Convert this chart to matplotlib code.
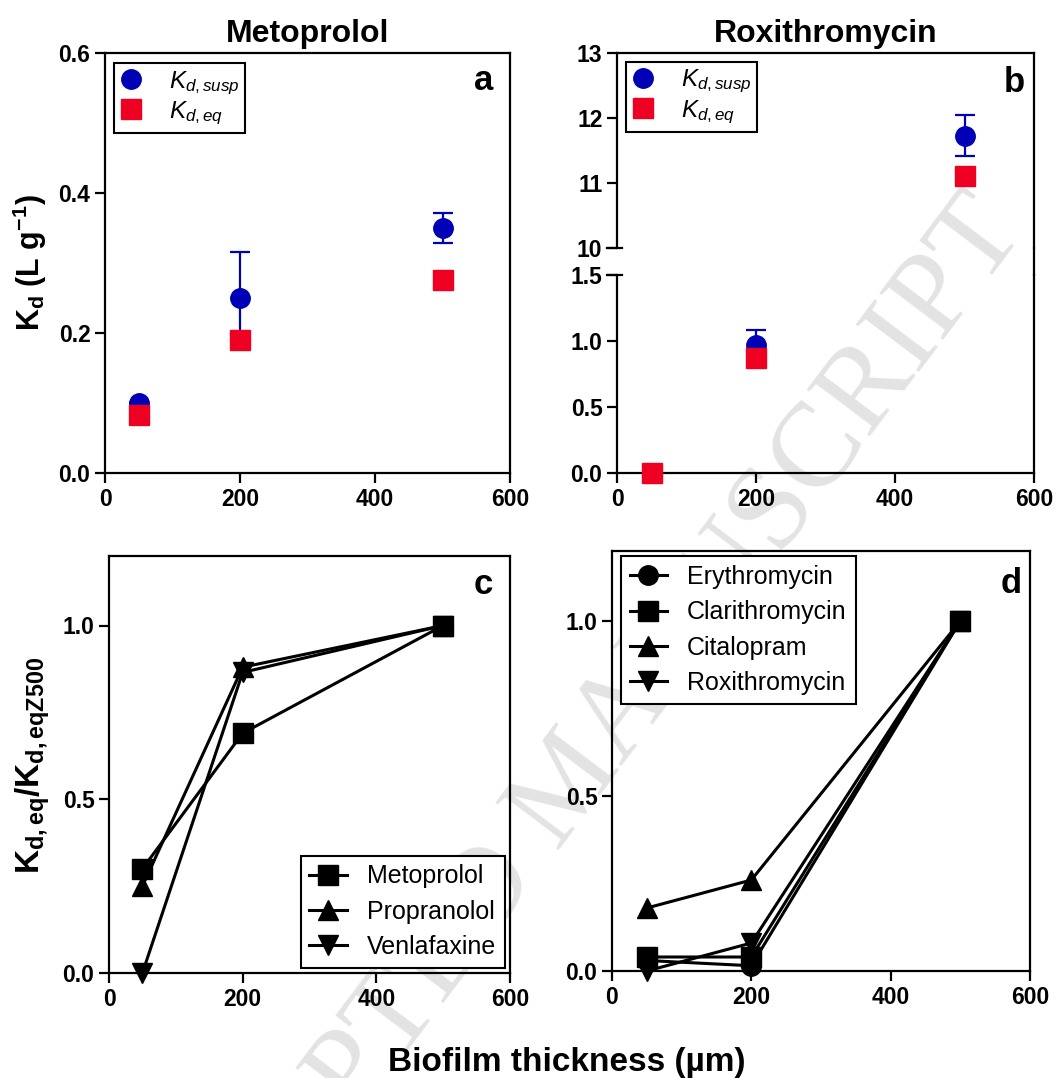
import numpy as np
import matplotlib
matplotlib.use("Agg")
import matplotlib.pyplot as plt
from matplotlib.lines import Line2D

plt.rcParams['font.family'] = ['Liberation Sans', 'DejaVu Sans']
plt.rcParams['mathtext.fontset'] = 'custom'
plt.rcParams['mathtext.rm'] = 'Liberation Sans'
plt.rcParams['mathtext.it'] = 'Liberation Sans:italic'
plt.rcParams['mathtext.bf'] = 'Liberation Sans:bold'

# biofilm thickness (um)
thickness = [50, 200, 500]

# a: metoprolol Kd (L/g)
meto_susp = [0.10, 0.25, 0.35]
meto_susp_err = [0.0, 0.065, 0.022]
meto_eq = [0.083, 0.19, 0.276]

# b: roxithromycin Kd (L/g)
roxi_susp = [0.0, 0.97, 11.73]
roxi_susp_err = [0.0, 0.11, 0.32]
roxi_eq = [0.0, 0.87, 11.10]

# c: Kd,eq normalised to 500 um
c_names = ['Metoprolol', 'Propranolol', 'Venlafaxine']
c_markers = ['s', '^', 'v']
c_values = [[0.30, 0.69, 1.0],
            [0.25, 0.88, 1.0],
            [0.0, 0.865, 1.0]]

# d: Kd,eq normalised to 500 um
d_names = ['Erythromycin', 'Clarithromycin', 'Citalopram', 'Roxithromycin']
d_markers = ['o', 's', '^', 'v']
d_values = [[0.03, 0.015, 1.0],
            [0.04, 0.04, 1.0],
            [0.18, 0.26, 1.0],
            [0.0, 0.08, 1.0]]

blue = '#0000B4'
red = '#EE0022'
tick_fs = 16.5
leg_fs = 18
lw_axis = 1.6

W, H = 1057, 1078
fig = plt.figure(figsize=(W / 100, H / 100), dpi=100)


def box(l, t, r, b):
    # pixel box -> figure fraction
    return [l / W, 1 - b / H, (r - l) / W, (b - t) / H]


def style(ax):
    ax.set_facecolor('none')
    for s in ax.spines.values():
        s.set_linewidth(lw_axis)
    ax.tick_params(direction='out', length=7, width=lw_axis, labelsize=tick_fs)
    for lab in ax.get_xticklabels() + ax.get_yticklabels():
        lab.set_fontweight('bold')
    ax.set_xlim(0, 600)


def fmt1(ax, ticks):
    ax.set_yticks(ticks)
    ax.set_yticklabels(['%.1f' % t for t in ticks])


ax_a = fig.add_axes(box(105, 53, 510, 473))
ax_bt = fig.add_axes(box(617, 53, 1034, 248))
ax_bb = fig.add_axes(box(617, 275, 1034, 473))
ax_c = fig.add_axes(box(109, 556, 510, 973))
ax_d = fig.add_axes(box(612, 551, 1030, 971))

# --- a: metoprolol
ax_a.errorbar(thickness, meto_susp, yerr=meto_susp_err, fmt='o', color=blue,
              ms=14, elinewidth=1.6, capsize=7, capthick=1.6, clip_on=False, zorder=3)
ax_a.plot(thickness, meto_eq, 's', color=red, ms=15, clip_on=False, zorder=4)
ax_a.set_ylim(0, 0.6)
ax_a.set_xticks([0, 200, 400, 600])
fmt1(ax_a, [0.0, 0.2, 0.4, 0.6])
ax_a.set_title('Metoprolol', fontsize=23, fontweight='bold', pad=8)

# --- b: roxithromycin, broken y axis
x = np.array(thickness)
ys = np.array(roxi_susp)
ye = np.array(roxi_susp_err)
yq = np.array(roxi_eq)
hi = ys > 5
for ax, m in [(ax_bt, hi), (ax_bb, ~hi)]:
    ax.errorbar(x[m], ys[m], yerr=ye[m], fmt='o', color=blue, ms=14,
                elinewidth=1.6, capsize=7, capthick=1.6, clip_on=False, zorder=3)
    ax.plot(x[m], yq[m], 's', color=red, ms=15, clip_on=False, zorder=4)
ax_bt.set_ylim(10, 13)
ax_bt.set_yticks([10, 11, 12, 13])
ax_bt.set_xticks([])
ax_bt.spines['bottom'].set_visible(False)
ax_bt.set_title('Roxithromycin', fontsize=23, fontweight='bold', pad=8)
ax_bb.set_ylim(0, 1.5)
fmt1(ax_bb, [0.0, 0.5, 1.0, 1.5])
ax_bb.set_xticks([0, 200, 400, 600])
ax_bb.spines['top'].set_visible(False)

# --- c
for vals, mk, name in zip(c_values, c_markers, c_names):
    ax_c.plot(thickness, vals, '-', marker=mk, color='k', lw=2.2, ms=15,
              clip_on=False, label=name)
ax_c.set_ylim(0, 1.2)
fmt1(ax_c, [0.0, 0.5, 1.0])
ax_c.set_xticks([0, 200, 400, 600])

# --- d
for vals, mk, name in zip(d_values, d_markers, d_names):
    ax_d.plot(thickness, vals, '-', marker=mk, color='k', lw=2.2,
              ms=14 if mk == 'o' else 15, clip_on=False, label=name)
ax_d.set_ylim(0, 1.2)
fmt1(ax_d, [0.0, 0.5, 1.0])
ax_d.set_xticks([0, 200, 400, 600])

for ax in [ax_a, ax_bt, ax_bb, ax_c, ax_d]:
    style(ax)

# right spine of the broken axis runs through the gap
fig.add_artist(Line2D([1034 / W, 1034 / W], [1 - 248 / H, 1 - 275 / H],
                      color='k', lw=lw_axis))
# break marks crossing the left spine
ax_bt.plot([-0.024, 0.012], [10, 10], color='k', lw=lw_axis,
           transform=ax_bt.get_yaxis_transform(), clip_on=False)
ax_bb.plot([-0.024, 0.012], [1.5, 1.5], color='k', lw=lw_axis,
           transform=ax_bb.get_yaxis_transform(), clip_on=False)

# legends
kd_handles = [Line2D([], [], marker='o', ls='none', color=blue, ms=14),
              Line2D([], [], marker='s', ls='none', color=red, ms=14)]
kd_labels = [r'$K_{d,susp}$', r'$K_{d,eq}$']
for ax, anchor in [(ax_a, (0.022, 0.976)), (ax_bt, (0.022, 0.954))]:
    leg = ax.legend(kd_handles, kd_labels, loc='upper left', bbox_to_anchor=anchor,
                    borderaxespad=0, fontsize=17.5, handlelength=0.9,
                    handletextpad=1.1, labelspacing=0.12, borderpad=0.25,
                    fancybox=False, edgecolor='k', framealpha=1)
    leg.get_frame().set_linewidth(1.5)

leg = ax_c.legend(loc='lower right', bbox_to_anchor=(0.9875, 0.0128), borderaxespad=0,
                  fontsize=leg_fs, handlelength=1.5, handletextpad=0.8,
                  labelspacing=0.45, borderpad=0.35,
                  fancybox=False, edgecolor='k', framealpha=1)
leg.get_frame().set_linewidth(1.5)
leg = ax_d.legend(loc='upper left', bbox_to_anchor=(0.0215, 0.987), borderaxespad=0,
                  fontsize=leg_fs, handlelength=1.5, handletextpad=0.8,
                  labelspacing=0.45, borderpad=0.35,
                  fancybox=False, edgecolor='k', framealpha=1)
leg.get_frame().set_linewidth(1.5)

# panel letters
ax_a.text(0.958, 0.912, 'a', transform=ax_a.transAxes, ha='right', va='baseline',
          fontsize=25, fontweight='bold')
ax_bt.text(0.978, 0.80, 'b', transform=ax_bt.transAxes, ha='right', va='baseline',
           fontsize=25, fontweight='bold')
ax_c.text(0.958, 0.908, 'c', transform=ax_c.transAxes, ha='right', va='baseline',
          fontsize=25, fontweight='bold')
ax_d.text(0.981, 0.901, 'd', transform=ax_d.transAxes, ha='right', va='baseline',
          fontsize=25, fontweight='bold')

# axis labels
fig.text(30 / W, 1 - 263 / H, r'$\mathbf{K_d\ (L\ g^{-1})}$', rotation=90,
         ha='center', va='center', fontsize=22)
fig.text(33 / W, 1 - 765 / H, r'$\mathbf{K_{d,eq}/K_{d,eqZ500}}$', rotation=90,
         ha='center', va='center', fontsize=24)
fig.text(567 / W, 1 - 1071 / H, 'Biofilm thickness (µm)', ha='center', va='baseline',
         fontsize=24, fontweight='bold')

# watermark
fig.text(572 / W, 1 - 785 / H, 'ACCEPTED MANUSCRIPT', rotation=53,
         rotation_mode='anchor', ha='center', va='center', fontsize=87,
         family='Liberation Serif', color='#E3E3E3', zorder=-1)

fig.savefig('out.png', dpi=100)
